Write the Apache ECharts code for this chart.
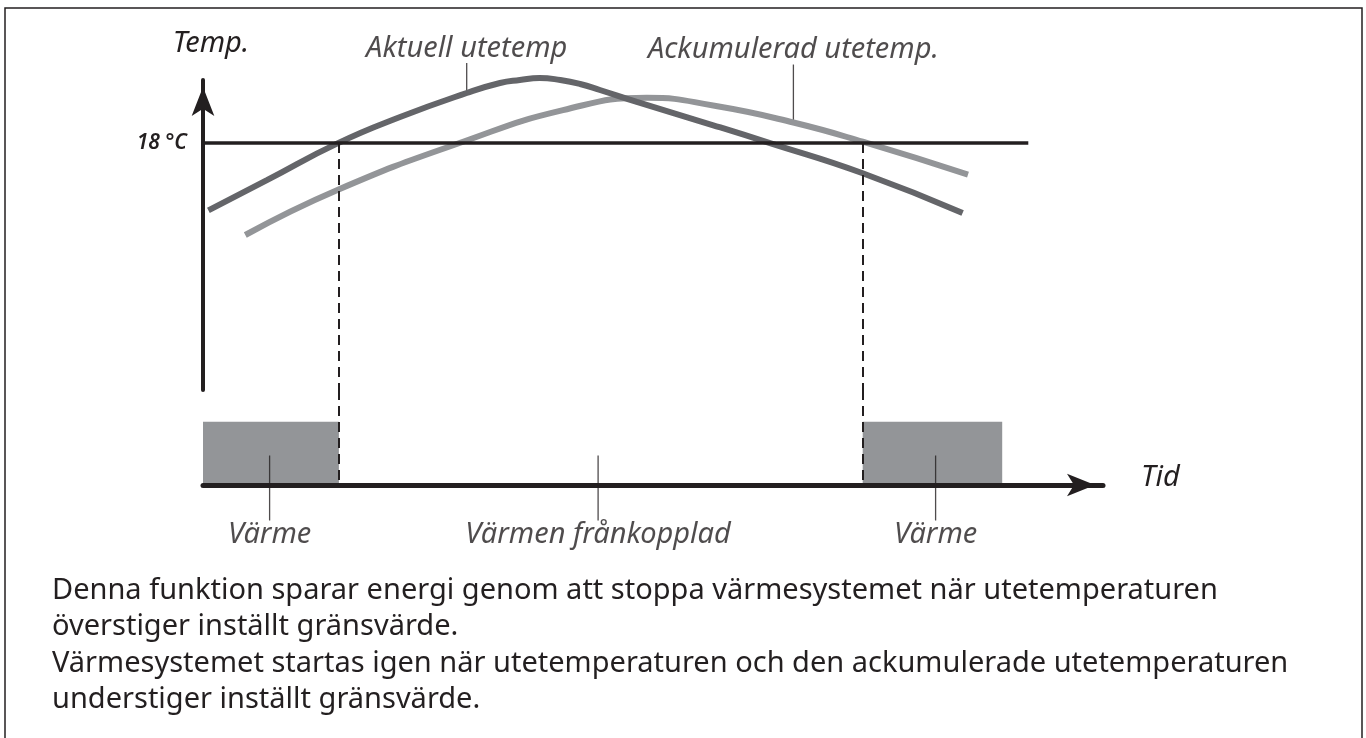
<!DOCTYPE html>
<html lang="sv">
  <head>
    <meta charset="UTF-8" />
    <title>Sommarfunktion</title>
    <script src="https://cdn.jsdelivr.net/npm/echarts@6/dist/echarts.min.js"></script>
    <style>
      html,
      body {
        margin: 0;
        padding: 0;
        background: #fff;
      }
      #chart {
        width: 1366px;
        height: 738px;
      }
    </style>
  </head>
  <body>
    <div id="chart"></div>

    <script>
      // tid (0-100) och temperatur
      var aktuellTemp = [
        [0.6, 13.1], [7.1, 15.3], [15.0, 18.0], [21.9, 19.9], [29.3, 21.65],
        [33.0, 22.38], [35.2, 22.6], [37.4, 22.75], [39.7, 22.6], [41.9, 22.31],
        [44.1, 21.87], [48.2, 21.0], [56.7, 19.3], [63.0, 18.0], [73.3, 15.8],
        [84.4, 12.9]
      ];
      var ackumuleradTemp = [
        [4.7, 11.3], [15.0, 14.6], [28.9, 18.1], [40.0, 20.4], [49.3, 21.3],
        [57.0, 20.7], [65.6, 19.5], [73.3, 18.1], [85.0, 15.7]
      ];
      var gransTemp = 18;
      var gransSlut = 91.7;
      var omkopplingar = [15.1, 73.3];
      var varmePerioder = [[0, 15.1], [73.3, 88.8]];
      var kurvEtiketter = [
        { name: "Aktuell utetemp", value: [29.3, 21.65] },
        { name: "Ackumulerad utetemp.", value: [65.6, 19.5] }
      ];
      var driftEtiketter = [
        { name: "Värme", value: [7.4, 0] },
        { name: "Värmen frånkopplad", value: [43.9, 0] },
        { name: "Värme", value: [81.4, 0] }
      ];
      var beskrivning = [
        "Denna funktion sparar energi genom att stoppa värmesystemet när utetemperaturen",
        "överstiger inställt gränsvärde.",
        "Värmesystemet startas igen när utetemperaturen och den ackumulerade utetemperaturen",
        "understiger inställt gränsvärde."
      ];

      var svart = "#231f20";
      var font = "Noto Sans";
      var etikettStorlek = 29;
      var ledarLangd = [30, 58];

      var chart = echarts.init(document.getElementById("chart"));

      var streckade0 = omkopplingar.map(function (t) {
        return [{ coord: [t, gransTemp] }, { coord: [t, 0] }];
      });
      var streckade1 = omkopplingar.map(function (t) {
        return [{ coord: [t, 1.5] }, { coord: [t, 0] }];
      });

      var option = {
        animation: false,
        title: {
          text: beskrivning.join("\n"),
          left: 52,
          top: 572,
          padding: 0,
          textStyle: {
            fontFamily: font,
            fontSize: 29,
            fontWeight: "normal",
            lineHeight: 36.5,
            color: svart
          }
        },
        graphic: [
          {
            type: "rect",
            shape: { x: 5, y: 8, width: 1357, height: 760 },
            style: { fill: "none", stroke: svart, lineWidth: 1.5 },
            silent: true
          }
        ],
        grid: [
          { left: 203, top: 80, width: 900, height: 310 },
          { left: 203, top: 390, width: 900, height: 95 }
        ],
        xAxis: [
          { gridIndex: 0, type: "value", min: 0, max: 100, show: false },
          {
            gridIndex: 1,
            type: "value",
            min: 0,
            max: 100,
            z: 5,
            axisLine: {
              lineStyle: { color: svart, width: 5 },
              symbol: ["none", "arrow"],
              symbolSize: [17, 28],
              symbolOffset: [0, -8]
            },
            axisTick: { show: false },
            axisLabel: { show: false },
            splitLine: { show: false },
            name: "Tid",
            nameLocation: "end",
            nameGap: 38,
            nameTextStyle: {
              fontFamily: font,
              fontStyle: "italic",
              fontSize: etikettStorlek,
              color: svart,
              verticalAlign: "bottom",
              lineHeight: 14
            }
          }
        ],
        yAxis: [
          {
            gridIndex: 0,
            type: "value",
            min: 0,
            max: 22.6,
            interval: 18,
            z: 5,
            axisLine: {
              show: true,
              lineStyle: { color: svart, width: 4 },
              symbol: ["none", "arrow"],
              symbolSize: [17, 29],
              symbolOffset: [0, -7]
            },
            axisTick: { show: false },
            splitLine: { show: false },
            axisLabel: {
              margin: 16,
              fontFamily: font,
              fontStyle: "italic",
              fontWeight: 600,
              fontSize: 21,
              color: svart,
              formatter: function (v) {
                return v === gransTemp ? "18 °C" : "";
              }
            },
            name: "Temp.",
            nameLocation: "end",
            nameGap: 22,
            nameTextStyle: {
              fontFamily: font,
              fontStyle: "italic",
              fontSize: etikettStorlek,
              color: svart,
              padding: [0, 0, 0, 16]
            }
          },
          { gridIndex: 1, type: "value", min: 0, max: 1.5, show: false }
        ],
        series: [
          {
            name: "Ackumulerad utetemp.",
            type: "line",
            xAxisIndex: 0,
            yAxisIndex: 0,
            smooth: 0.5,
            showSymbol: false,
            clip: false,
            data: ackumuleradTemp,
            lineStyle: { color: "#939598", width: 6 },
            z: 3
          },
          {
            name: "Aktuell utetemp",
            type: "line",
            xAxisIndex: 0,
            yAxisIndex: 0,
            smooth: 0.5,
            showSymbol: false,
            clip: false,
            data: aktuellTemp,
            lineStyle: { color: "#646569", width: 6 },
            z: 4,
            markLine: {
              silent: true,
              symbol: ["none", "none"],
              label: { show: false },
              lineStyle: { color: svart, width: 2, type: [10, 6] },
              data: [
                [
                  { coord: [0, gransTemp], lineStyle: { type: "solid", width: 3.5 } },
                  { coord: [gransSlut, gransTemp] }
                ]
              ].concat(streckade0)
            }
          },
          {
            name: "etiketter",
            type: "scatter",
            xAxisIndex: 0,
            yAxisIndex: 0,
            z: 2,
            data: kurvEtiketter.map(function (d, i) {
              return {
                name: d.name,
                value: d.value,
                symbolSize: [1.3, ledarLangd[i]],
                symbolOffset: [0, -ledarLangd[i] / 2]
              };
            }),
            symbol: "rect",
            itemStyle: { color: svart },
            label: {
              show: true,
              position: "top",
              distance: 0,
              formatter: "{b}",
              fontFamily: font,
              fontStyle: "italic",
              fontSize: etikettStorlek,
              color: svart
            }
          },
          {
            name: "Värme",
            type: "custom",
            xAxisIndex: 1,
            yAxisIndex: 1,
            z: 1,
            data: varmePerioder.map(function (p) {
              return [p[0], p[1], 1];
            }),
            encode: { x: [0, 1], y: 2 },
            renderItem: function (params, api) {
              var p0 = api.coord([api.value(0), api.value(2)]);
              var p1 = api.coord([api.value(1), 0]);
              return {
                type: "rect",
                shape: {
                  x: p0[0],
                  y: p0[1],
                  width: p1[0] - p0[0],
                  height: p1[1] - p0[1]
                },
                style: { fill: "#939598" }
              };
            }
          },
          {
            name: "drift",
            type: "scatter",
            xAxisIndex: 1,
            yAxisIndex: 1,
            z: 6,
            data: driftEtiketter.map(function (d) {
              return { name: d.name, value: d.value };
            }),
            symbol: "rect",
            symbolSize: [1.3, 65],
            symbolOffset: [0, 3],
            itemStyle: { color: svart },
            label: {
              show: true,
              position: "bottom",
              distance: 0,
              formatter: "{b}",
              fontFamily: font,
              fontStyle: "italic",
              fontSize: etikettStorlek,
              color: svart
            },
            markLine: {
              silent: true,
              symbol: ["none", "none"],
              label: { show: false },
              lineStyle: { color: svart, width: 2, type: [10, 6] },
              data: streckade1
            }
          }
        ]
      };

      chart.setOption(option);
    </script>
  </body>
</html>
